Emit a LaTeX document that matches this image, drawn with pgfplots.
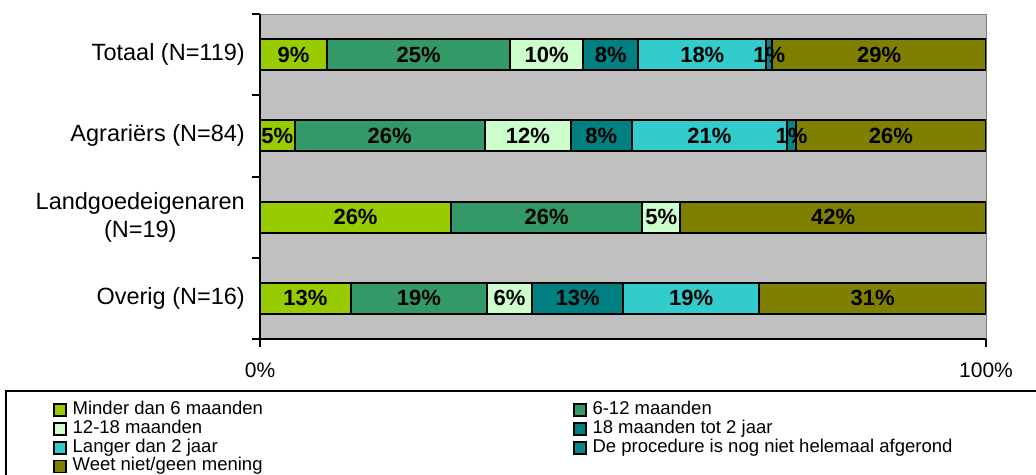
\documentclass[border=0pt]{standalone}
\usepackage{fontspec}
\setmainfont{Liberation Sans}
\usepackage{pgfplots}
\usepackage{pgfplotstable}
\pgfplotsset{compat=1.18}
\definecolor{cMinder}{HTML}{99CC00}
\definecolor{cSix}{HTML}{339966}
\definecolor{cTwelve}{HTML}{CCFFCC}
\definecolor{cEighteen}{HTML}{008080}
\definecolor{cLanger}{HTML}{33CCCC}
\definecolor{cProc}{HTML}{0A8585}
\definecolor{cWeet}{HTML}{808000}
\definecolor{bgGray}{HTML}{C0C0C0}
% y: 0 Totaal, 1 Agrariers, 2 Landgoedeigenaren, 3 Overig
\pgfplotstableread{
x y
9.24 0
4.76 1
26.32 2
12.5 3
}\tMinder
\pgfplotstableread{
x y
25.21 0
26.19 1
26.32 2
18.75 3
}\tSix
\pgfplotstableread{
x y
10.08 0
11.90 1
5.26 2
6.25 3
}\tTwelve
\pgfplotstableread{
x y
7.56 0
8.33 1
0 2
12.5 3
}\tEighteen
\pgfplotstableread{
x y
17.65 0
21.43 1
0 2
18.75 3
}\tLanger
\pgfplotstableread{
x y
0.84 0
1.19 1
0 2
0 3
}\tProc
\pgfplotstableread{
x y
29.41 0
26.19 1
42.11 2
31.25 3
}\tWeet
\pgfplotsset{
  commonaxis/.style={
    at={(260pt,135pt)}, anchor=south west,
    width=726pt, height=325pt, scale only axis,
    xmin=0, xmax=100, ymin=-0.5, ymax=3.5, y dir=reverse}
}
\begin{document}
\begin{tikzpicture}
\path[use as bounding box] (0,0) rectangle (1036pt,474pt);
\clip (0,0) rectangle (1036pt,474pt);
\begin{axis}[
  commonaxis,
  xbar stacked, bar width=31pt,
  axis x line*=bottom, axis y line*=left,
  axis line style={line width=2pt, black},
  axis background/.style={fill=bgGray, draw=gray, line width=1pt},
  tick align=outside, major tick length=8pt,
  tick style={line width=2pt, black},
  xtick={0,100}, xticklabels={0\%,100\%},
  xticklabel style={font=\fontsize{21}{24}\selectfont, yshift=-12pt},
  ytick={-0.5,0.5,1.5,2.5,3.5}, yticklabels={},
  extra y ticks={0,1,2,3},
  extra y tick labels={Totaal (N=119), Agrariërs (N=84), {Landgoedeigenaren\\(N=19)}, Overig (N=16)},
  extra y tick style={major tick length=0pt, yticklabel style={align=center, anchor=east, inner sep=0pt, xshift=-15pt, font=\fontsize{23.5}{28}\selectfont}},
  every axis plot/.append style={draw=black, line width=2pt},
  legend columns=2, legend cell align=left,
  legend image code/.code={\draw[#1, line width=1.6pt] (0pt,-6pt) rectangle (12pt,6pt);},
  legend style={at={(-0.285,-0.19)}, anchor=north west, draw=none, fill=none,
    inner sep=0pt, outer sep=0pt, row sep=0pt,
    font=\fontsize{18.5}{18.3}\selectfont,
    nodes={inner sep=0pt, text height=13.8pt, text depth=5pt},
    /tikz/every odd column/.append style={column sep=6pt},
    /tikz/every even column/.append style={column sep=310pt}},
]
\addplot[fill=cMinder] table[x=x, y=y] {\tMinder};
\addlegendentry{Minder dan 6 maanden}
\addplot[fill=cSix] table[x=x, y=y] {\tSix};
\addlegendentry{6-12 maanden}
\addplot[fill=cTwelve] table[x=x, y=y] {\tTwelve};
\addlegendentry{12-18 maanden}
\addplot[fill=cEighteen] table[x=x, y=y] {\tEighteen};
\addlegendentry{18 maanden tot 2 jaar}
\addplot[fill=cLanger] table[x=x, y=y] {\tLanger};
\addlegendentry{Langer dan 2 jaar}
\addplot[fill=cProc] table[x=x, y=y] {\tProc};
\addlegendentry{De procedure is nog niet helemaal afgerond}
\addplot[fill=cWeet] table[x=x, y=y] {\tWeet};
\addlegendentry{Weet niet/geen mening}
\end{axis}
% value labels, at the middle of each segment
\begin{axis}[commonaxis, hide axis]
\addplot[only marks, mark=*, mark size=0.01pt, mark options={draw=none, fill=none},
  nodes near coords, point meta=explicit symbolic,
  every node near coord/.append style={anchor=center, font=\bfseries\fontsize{22}{24}\selectfont, inner sep=0pt, text=black}]
coordinates {
 (4.62,0) [9\%] (21.85,0) [25\%] (39.49,0) [10\%] (48.31,0) [8\%] (60.92,0) [18\%] (70.16,0) [1\%] (85.29,0) [29\%]
 (2.38,1) [5\%] (17.86,1) [26\%] (36.90,1) [12\%] (47.02,1) [8\%] (61.90,1) [21\%] (73.21,1) [1\%] (86.90,1) [26\%]
 (13.16,2) [26\%] (39.48,2) [26\%] (55.27,2) [5\%] (78.95,2) [42\%]
 (6.25,3) [13\%] (21.88,3) [19\%] (34.38,3) [6\%] (43.75,3) [13\%] (59.38,3) [19\%] (84.38,3) [31\%]
};
\end{axis}
\draw[line width=1.5pt] (6pt,-20pt) rectangle (1060pt,83pt);
\end{tikzpicture}
\end{document}
